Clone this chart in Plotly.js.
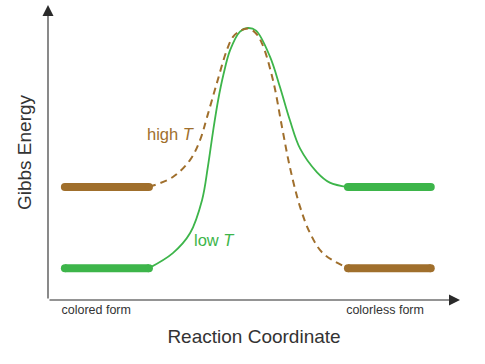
<!DOCTYPE html>
<html>
<head>
<meta charset="utf-8">
<script src="https://cdn.plot.ly/plotly-3.0.1.min.js"></script>
<style>html,body{margin:0;padding:0;background:#fff;}#chart{width:485px;height:364px;}</style>
</head>
<body>
<div id="chart"></div>
<script>
// Reaction coordinate (0-100) and Gibbs energy (arbitrary units, 0-100)
const levelLeftX = [4.1, 24.5];
const levelRightX = [72.8, 92.9];
const highLevel = 38.3;
const lowLevel = 10.8;

// low T path: colored form (low) -> barrier -> colorless form (high)
const lowTx = [24.5, 30.3, 34.5, 37.4, 38.8, 40.0, 41.3, 42.6, 44.2, 46.6, 48.5, 50.5, 53.9, 56.3, 58.7, 61.2, 65.3, 68.4, 72.8];
const lowTy = [10.8, 15.9, 22.7, 33.9, 45.1, 56.6, 67.8, 76.5, 84.7, 91.0, 92.2, 91.3, 82.4, 72.2, 61.0, 51.3, 43.3, 39.8, 38.3];

// high T path: colored form (high) -> barrier -> colorless form (low)
const highTx = [24.5, 30.3, 34.5, 36.9, 38.6, 41.0, 43.4, 44.9, 46.6, 48.5, 50.2, 51.9, 54.6, 56.8, 58.7, 61.2, 63.6, 66.7, 72.8];
const highTy = [38.3, 41.7, 47.5, 54.2, 62.0, 73.6, 84.7, 89.2, 91.2, 92.0, 90.8, 87.1, 74.6, 58.6, 45.1, 31.5, 22.7, 15.9, 10.8];

const tickVals = [11.7, 81.8];
const tickText = ["colored form", "colorless form"];

const green = "#3db54a";
const brown = "#a06f2c";

function level(xs, y, color) {
  return {x: xs, y: [y, y], mode: "lines+markers", line: {color: color, width: 8},
          marker: {color: color, size: 8}, hoverinfo: "skip", cliponaxis: false};
}

const traces = [
  {x: lowTx, y: lowTy, mode: "lines", line: {color: green, width: 1.8, shape: "spline", smoothing: 1}, hoverinfo: "skip"},
  {x: highTx, y: highTy, mode: "lines", line: {color: brown, width: 2, dash: "7px,5px", shape: "spline", smoothing: 1}, hoverinfo: "skip"},
  level(levelLeftX, highLevel, brown),
  level(levelLeftX, lowLevel, green),
  level(levelRightX, highLevel, green),
  level(levelRightX, lowLevel, brown)
];

const layout = {
  width: 485, height: 364,
  margin: {l: 48, r: 25, t: 5, b: 64},
  paper_bgcolor: "#fff", plot_bgcolor: "#fff",
  showlegend: false,
  font: {family: "Arial, Liberation Sans, sans-serif", color: "#333"},
  xaxis: {range: [0, 100], showgrid: false, zeroline: false, showline: false,
          tickvals: tickVals, ticktext: tickText, ticks: "", ticklen: 0,
          tickfont: {size: 12.5, color: "#333"},
          title: {text: "Reaction Coordinate", font: {size: 19, color: "#333"}, standoff: 14},
          fixedrange: true},
  yaxis: {range: [0, 100], showgrid: false, zeroline: false, showline: false,
          showticklabels: false, ticks: "",
          title: {text: "Gibbs Energy", font: {size: 19, color: "#333"}, standoff: 10},
          fixedrange: true},
  annotations: [
    {x: 100, y: 0, ax: 0, ay: 0, xref: "x", yref: "y", axref: "x", ayref: "y",
     showarrow: true, arrowhead: 2, arrowsize: 2, arrowwidth: 1.1, arrowcolor: "#2a2a2a", text: ""},
    {x: 0, y: 100, ax: 0, ay: 0, xref: "x", yref: "y", axref: "x", ayref: "y",
     showarrow: true, arrowhead: 2, arrowsize: 2, arrowwidth: 1.1, arrowcolor: "#2a2a2a", text: ""},
    {x: 29.9, y: 56.3, xref: "x", yref: "y", showarrow: false,
     text: "high <i>T</i>", font: {size: 16.5, color: brown}},
    {x: 40.5, y: 20.3, xref: "x", yref: "y", showarrow: false,
     text: "low <i>T</i>", font: {size: 16.5, color: green}}
  ]
};

Plotly.newPlot("chart", traces, layout, {staticPlot: true, displayModeBar: false});
</script>
</body>
</html>
